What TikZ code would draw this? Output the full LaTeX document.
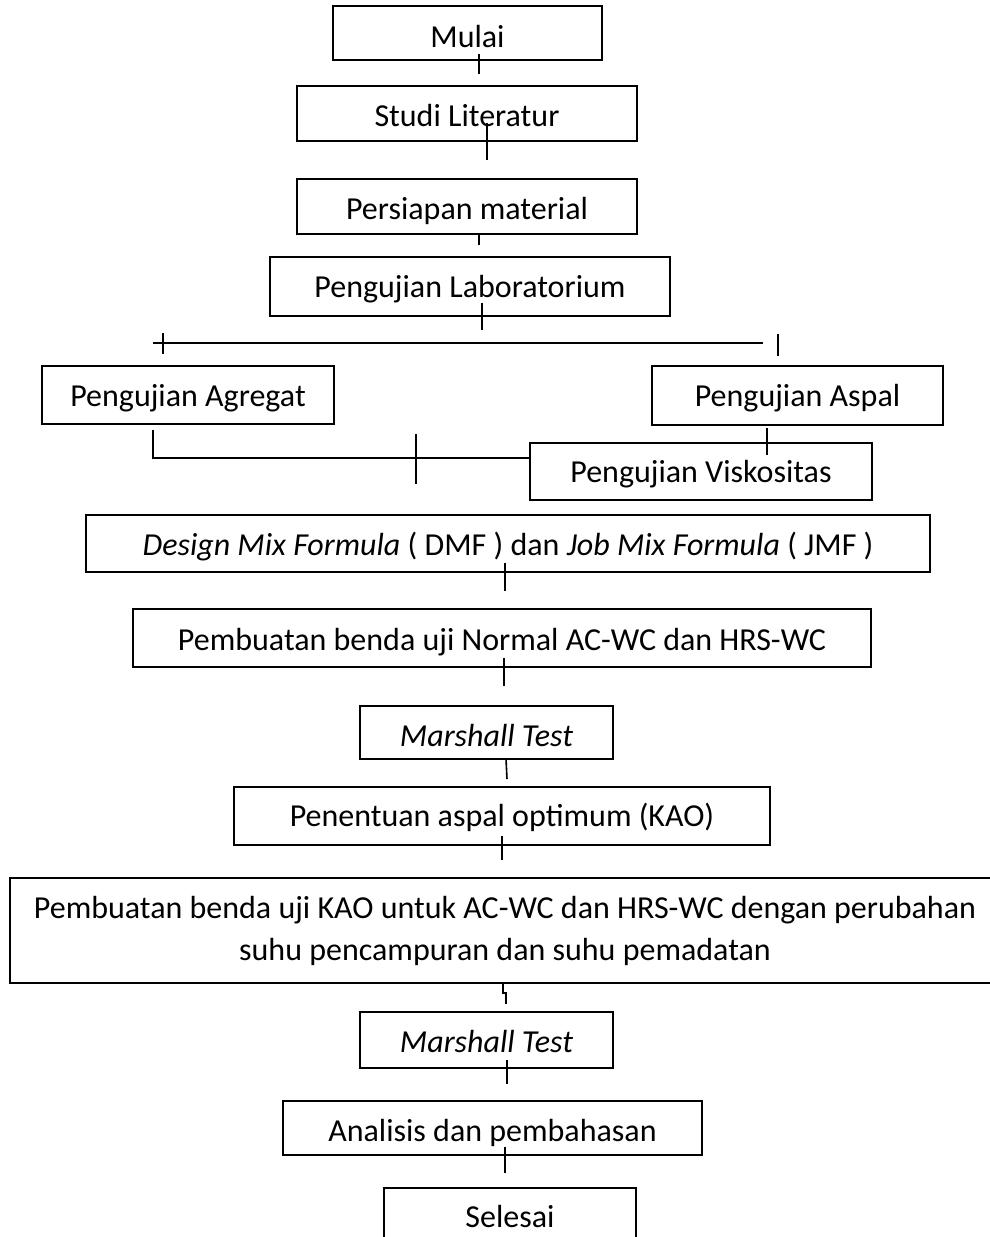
\documentclass[tikz,border=0pt]{standalone}
\usepackage{fontspec}
\setmainfont{Carlito}
\begin{document}
\begin{tikzpicture}[x=1pt,y=-1pt,
  box/.style={draw=black, line width=1.6pt, inner sep=0pt, fill=white,
    font=\fontsize{32}{42}\selectfont},
  conn/.style={draw=black, line width=1.6pt}]
\path[use as bounding box, clip] (0,0) rectangle (990,1237);
\fill[white] (0,0) rectangle (990,1237);

% boxes
\node[box, minimum width=269pt, minimum height=54pt, text height=34pt, text depth=6pt] (mulai) at (467.5,33) {Mulai};
\node[box, minimum width=340pt, minimum height=55pt, text height=33pt, text depth=7pt] (studi) at (467,113.5) {Studi Literatur};
\node[box, minimum width=340pt, minimum height=55pt, text height=33pt, text depth=7pt] (persiapan) at (467,206.5) {Persiapan material};
\node[box, minimum width=400pt, minimum height=59pt, text height=31pt, text depth=9pt] (lab) at (470,286.5) {Pengujian Laboratorium};
\node[box, minimum width=292pt, minimum height=58pt, text height=31pt, text depth=9pt] (agregat) at (188,395) {Pengujian Agregat};
\node[box, minimum width=291pt, minimum height=59pt, text height=31pt, text depth=9pt] (aspal) at (797.5,395.5) {Pengujian Aspal};
\node[box, minimum width=342pt, minimum height=57pt, text height=30.5pt, text depth=9.5pt] (visko) at (701,471.5) {Pengujian Viskositas};
\node[box, minimum width=844pt, minimum height=57pt, text height=31.5pt, text depth=8.5pt] (dmf) at (508,543.5) {\textit{Design Mix Formula} ( DMF ) dan \textit{Job Mix Formula} ( JMF )};
\node[box, minimum width=738pt, minimum height=58pt, text height=32pt, text depth=8pt] (normal) at (502,638) {Pembuatan benda uji Normal AC-WC dan HRS-WC};
\node[box, minimum width=253pt, minimum height=53pt, text height=33.5pt, text depth=6.5pt] (marshalla) at (486.5,732.5) {\textit{Marshall Test}};
\node[box, minimum width=536pt, minimum height=58pt, text height=30pt, text depth=10pt] (kaoopt) at (502,816) {Penentuan aspal optimum (KAO)};
\node[box, minimum width=990pt, minimum height=105pt, align=center] (kao) at (505,930.5) {Pembuatan benda uji KAO untuk AC-WC dan HRS-WC dengan perubahan\\suhu pencampuran dan suhu pemadatan};
\node[box, minimum width=253pt, minimum height=56pt, text height=32.5pt, text depth=7.5pt] (marshallb) at (486.5,1040) {\textit{Marshall Test}};
\node[box, minimum width=419pt, minimum height=54pt, text height=33pt, text depth=7pt] (analisis) at (492.5,1128) {Analisis dan pembahasan};
\node[box, minimum width=252pt, minimum height=56pt, text height=31pt, text depth=9pt] (selesai) at (510,1216) {Selesai};

% connector end points
\coordinate (c1a) at (479,54);   \coordinate (c1b) at (479,74);
\coordinate (c2a) at (487,123);  \coordinate (c2b) at (487,160);
\coordinate (c3a) at (479,234);  \coordinate (c3b) at (479,245);
\coordinate (c4a) at (482,303);  \coordinate (c4b) at (482,330);
\coordinate (hl) at (153,343);   \coordinate (hr) at (763,343);
\coordinate (tla) at (163,333);  \coordinate (tlb) at (163,354);
\coordinate (tra) at (778,334);  \coordinate (trb) at (778,356);
\coordinate (ga) at (153,430);   \coordinate (gb) at (153,458);
\coordinate (ma) at (416,434);   \coordinate (mb) at (416,484);
\coordinate (aa) at (767,428);   \coordinate (ab) at (767,455);
\coordinate (d1) at (505,563);   \coordinate (d2) at (505,591);
\coordinate (n1) at (504,658);   \coordinate (n2) at (504,686);
\coordinate (m1) at (506,759);   \coordinate (m2) at (507,779);
\coordinate (p1) at (502,836);   \coordinate (p2) at (502,860);
\coordinate (k1) at (503,983);   \coordinate (k2) at (503,993);
\coordinate (k3) at (506,993);   \coordinate (k4) at (506,1004);
\coordinate (s1) at (507,1060);  \coordinate (s2) at (507,1084);
\coordinate (a1) at (505,1147);  \coordinate (a2) at (505,1173);

% connectors
\draw[conn] (c1a) -- (c1b);
\draw[conn] (c2a) -- (c2b);
\draw[conn] (c3a) -- (c3b);
\draw[conn] (c4a) -- (c4b);
\draw[conn] (hl) -- (hr);
\draw[conn] (tla) -- (tlb);
\draw[conn] (tra) -- (trb);
\draw[conn] (ga) -- (gb) -- (gb -| visko.west);
\draw[conn] (ma) -- (mb);
\draw[conn] (aa) -- (ab);
\draw[conn] (d1) -- (d2);
\draw[conn] (n1) -- (n2);
\draw[conn] (m1) -- (m2);
\draw[conn] (p1) -- (p2);
\draw[conn] (k1) -- (k2) -- (k3) -- (k4);
\draw[conn] (s1) -- (s2);
\draw[conn] (a1) -- (a2);
\end{tikzpicture}
\end{document}
